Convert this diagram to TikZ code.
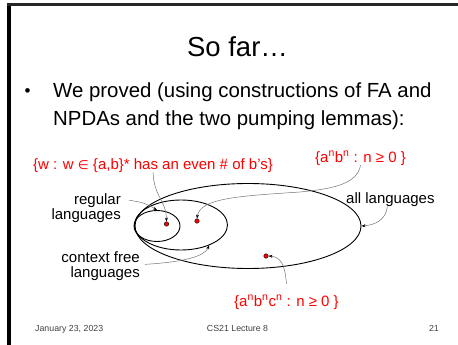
\documentclass[tikz,border=0pt]{standalone}
\usepackage{fontspec}
\setmainfont{Liberation Sans}
\newfontfamily\dejavu{DejaVu Sans}
\usetikzlibrary{shapes.geometric,arrows.meta}
\definecolor{slidered}{RGB}{255,0,0}
\begin{document}
\begin{tikzpicture}[x=1pt,y=-1pt,
  lbl/.style={font=\fontsize{15}{16}\selectfont, inner sep=0},
  redlbl/.style={font=\fontsize{15}{16}\selectfont, text=slidered, inner sep=0},
  bodytxt/.style={font=\fontsize{20.4}{28}\selectfont, inner sep=0},
  conn/.style={draw=black!55, line width=0.5pt, -{Stealth[length=4pt,width=3pt,black]}},
  dot/.style={circle, fill=slidered, draw=black, line width=0.4pt, minimum size=4.5pt, inner sep=0},
  setell/.style={ellipse, draw=black, line width=0.9pt, inner sep=0},
  foot/.style={font=\fontsize{8.8}{10}\selectfont, text=black!75, inner sep=0}]
\useasboundingbox (0,0) rectangle (458,345);
% slide frame
\draw[line width=3.5pt] (9,4) -- (9,345);
\draw[line width=2.5pt, black!85] (7.25,4.5) -- (458,4.5);
% title and bullet
\node[font=\fontsize{27.5}{30}\selectfont, anchor=base, inner sep=0] (title) at (237.5,57) {So far…};
\node[font=\fontsize{17}{18}\selectfont, anchor=base, inner sep=0] (bul) at (27.5,96) {•};
\node[bodytxt, anchor=base west] (line1) at (53,97) {We proved (using constructions of FA and};
\node[bodytxt, anchor=base west] (line2) at (53,125) {NPDAs and the two pumping lemmas):};
% sets
\node[setell, minimum width=226pt, minimum height=85pt] (allL) at (248,226) {};
\node[setell, minimum width=93pt, minimum height=50pt] (cfl) at (181,225) {};
\node[setell, minimum width=46pt, minimum height=31pt] (reg) at (157,226) {};
% dots
\node[dot] (d1) at (166.5,224) {};
\node[dot] (d2) at (197,221) {};
\node[dot] (d3) at (266,256) {};
% labels
\node[redlbl, anchor=base west] (wtext) at (33,169) {\{w : w {\dejavu\fontsize{12.5}{14}\selectfont ∈} \{a,b\}* has an even \# of b’s\}};
\node[redlbl, anchor=base west] (anbn) at (315,162) {\{a\textsuperscript{n}b\textsuperscript{n} : n ≥ 0 \}};
\node[redlbl, anchor=base west] (anbncn) at (234,306) {\{a\textsuperscript{n}b\textsuperscript{n}c\textsuperscript{n} : n ≥ 0 \}};
\node[lbl, anchor=base east] (reg1) at (121,204) {regular};
\node[lbl, anchor=base east] (reg2) at (121,219) {languages};
\node[lbl, anchor=base east] (cf1) at (140,262) {context free};
\node[lbl, anchor=base east] (cf2) at (140,277) {languages};
\node[lbl, anchor=base west] (alllbl) at (346,203) {all languages};
% connectors
\draw[conn] (wtext.south) .. controls (154,197) and (166,200) .. (d1.north);
\draw[conn] (anbn.south) .. controls (357,185) and (330,189) .. (300,192) .. controls (240,196) and (200,198) .. (d2.north);
\draw[conn] ([xshift=-3pt]alllbl.south) .. controls (386,220) and (375,225) .. (allL.east);
\draw[conn] ([xshift=8pt]reg1.east) .. controls (145,203) .. (reg.north);
\draw[conn] ([xshift=5pt,yshift=-2pt]cf1.south east) .. controls (185,262) and (205,256) .. (cfl.-36);
\draw[conn] ([yshift=11pt]anbncn.north) .. controls (285,265) and (281,257) .. (d3.east);
% footer
\node[foot, anchor=base west] (date) at (35,331) {January 23, 2023};
\node[foot, anchor=base] (course) at (237.5,331) {CS21 Lecture 8};
\node[foot, anchor=base east] (page) at (439,331) {21};
\end{tikzpicture}
\end{document}
